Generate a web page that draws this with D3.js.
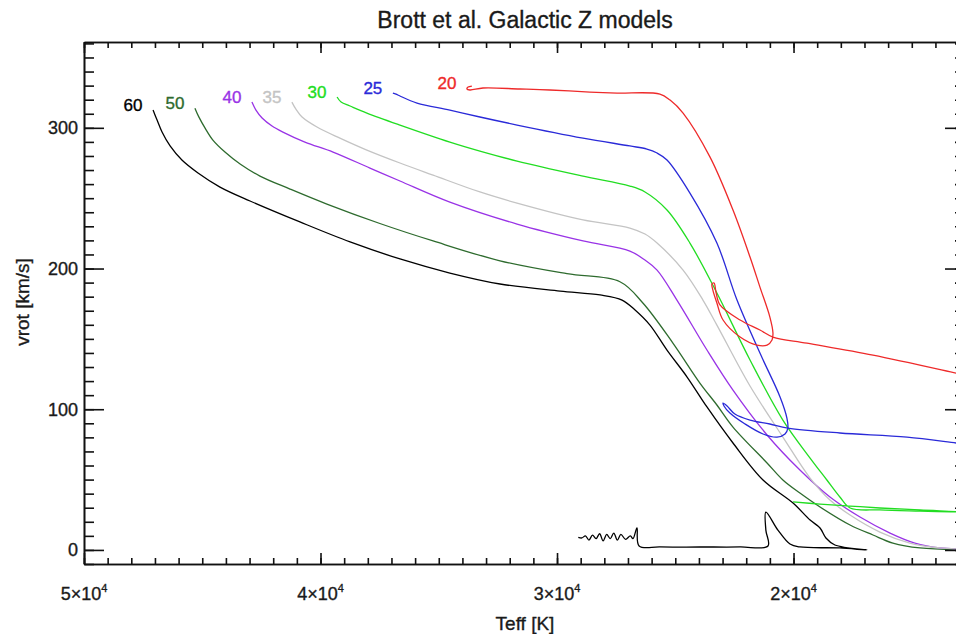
<!DOCTYPE html>
<html>
<head>
<meta charset="utf-8">
<script src="https://cdn.jsdelivr.net/npm/d3@7"></script>
<style>
  body { margin: 0; background: #fff; }
  text { font-family: "Liberation Sans", Arial, Helvetica, sans-serif; fill: #1a1a1a; stroke-width: 0.35px; }
</style>
</head>
<body>
<svg id="svg1" width="956" height="634"></svg>
<script>
// model tracks: Teff [K] and vrot [km/s]
var masses = [60, 50, 40, 35, 30, 25, 20];
var colors = ["#000000", "#2e6b2e", "#9933e6", "#c4c4c4", "#22dd22", "#2a2ad8", "#ee2a2a"];

var teff60 = [47080, 46910, 46700, 46360, 45860, 45180, 44250, 42980, 40870, 38750, 36640, 34530, 32410, 29870, 28180, 27250,
  26700, 26070, 25350, 24500, 23660, 22560, 21290, 20020, 19300, 18880, 18630, 18250, 16900, 18040, 19730, 20150, 20660,
  21170, 21170, 21080, 22260, 23960, 25650, 26530, 26620, 26790, 26900, 27100, 27300, 27450, 27600, 27750, 27900, 28050,
  28200, 28350, 28500, 28650, 28800, 28950, 29100];
var vrot60 = [312.6, 305.5, 297, 287.1, 277.1, 267.9, 257.9, 248, 233.1, 218.9, 206.8, 196.8, 189, 184, 181.2, 177.6,
  170.5, 159.8, 142, 122.9, 101.6, 76, 49.7, 33.3, 21.2, 15.6, 8.5, 3.5, 0, 1.4, 2.1, 4.2, 14.1,
  26.9, 14.1, 2.8, 2.1, 2.1, 2.1, 2.8, 15.6, 8, 10, 7.5, 11, 7, 12, 8, 11, 6.5,
  11.5, 8, 10.5, 7, 10, 8.5, 9];

var teff50 = [45310, 45140, 44880, 44550, 44040, 43400, 42560, 41290, 39730, 37490, 35240, 32410, 29580, 27340,
  26370, 25100, 23960, 23240, 22560, 21120, 20450, 19730, 18880, 17610, 16640, 15800, 14650, 12750];
var vrot50 = [314, 307.6, 299.8, 291.3, 282.8, 274.3, 265.7, 256.5, 245.8, 232, 219.6, 205.5, 196.3, 190.6,
  175.5, 147, 118.6, 103, 87.3, 61.8, 49.7, 40.4, 30.5, 17.7, 10.6, 4.9, 1.4, 0];

var teff40 = [42900, 42730, 42470, 42050, 41590, 40660, 39470, 37910, 36640, 34530, 31690, 28900, 26920, 26280, 25770,
  24930, 23660, 22560, 21120, 19730, 18460, 17190, 15920, 14870, 13810, 12750];
var vrot40 = [318.3, 312.6, 307, 301.3, 297, 289.9, 282.8, 271.4, 262.2, 247.2, 231.6, 219.6, 212.4, 206, 198.9,
  177.6, 142.1, 113.6, 81.7, 56.8, 37.6, 23.4, 12, 4.9, 1.4, 0.6];

var teff35 = [41210, 41040, 40780, 40150, 39180, 38040, 36640, 35240, 33260, 31690, 28900, 26920, 26280, 25770, 24670,
  23830, 23240, 21840, 20450, 19300, 18460, 17610, 16350, 15080, 13810, 12750];
var vrot35 = [318.3, 313.3, 307.7, 300.6, 292.7, 284.2, 275, 266.4, 254.4, 246.5, 234.5, 228.8, 224.5, 218.1, 198.9,
  177.6, 159.8, 116.5, 80.2, 51.1, 35.5, 24.8, 12.7, 4.9, 1.4, 0.6];

var teff30 = [39300, 39130, 38750, 38040, 36640, 34530, 33260, 31690, 28900, 26920, 26280, 25350, 24380, 23240, 21840,
  20450, 19300, 18590, 18040, 17610, 16350, 14650, 12750, 14650, 16350, 17610, 18880, 20020];
var vrot30 = [321.9, 318.3, 315.5, 310.5, 302, 289.9, 283.5, 276.4, 265.7, 258.6, 254.4, 241.6, 218.1, 182.6, 135,
  92.3, 65.3, 49.7, 37.6, 29.8, 28.4, 27.6, 26.9, 28.4, 29.8, 31.2, 32.6, 34.1];

var teff25 = [36940, 36810, 36640, 35920, 34530, 33260, 31690, 28900, 26920, 26200, 25770, 25350, 24380, 23240, 22390,
  21420, 20570, 20280, 20240, 20360, 20700, 21290, 22050, 22690, 22940, 22980, 22810, 22480, 21840, 21000, 20240,
  18040, 15200, 13130, 12750];
var vrot25 = [324.7, 324, 322.6, 317.6, 312.6, 307.7, 302, 292.7, 287.1, 284.9, 282.1, 277.1, 253.6, 218.1, 177.6,
  139.9, 108.7, 93.7, 86.6, 82.4, 80.2, 82.4, 89.5, 97.3, 102.3, 104.4, 102.3, 96.6, 92.3, 89.5, 86.6,
  83.1, 80.2, 76, 75.3];

var teff20 = [33600, 33760, 33810, 33680, 33130, 31570, 30300, 28610, 27460, 25650, 25220, 24670, 23530, 22560, 21840,
  21420, 21000, 20870, 20910, 21120, 21550, 22260, 22980, 23240, 23410, 23450, 23360, 23280, 23110, 22260, 21420,
  20870, 19430, 16640, 13130, 12750];
var vrot20 = [329.7, 329, 327.6, 326.9, 328.3, 327.6, 326.9, 325.4, 324.7, 324, 319.7, 310.5, 279.2, 241.6, 208.2,
  186.8, 165.5, 154.2, 149.2, 145.6, 145.6, 151.3, 163.4, 175.5, 184.7, 189, 189.7, 183.3, 174.1, 163.4, 156.3,
  151.3, 147, 138.5, 125.7, 124.3];

var teffs = [teff60, teff50, teff40, teff35, teff30, teff25, teff20];
var vrots = [vrot60, vrot50, vrot40, vrot35, vrot30, vrot25, vrot20];

var xMajor = [50000, 40000, 30000, 20000];
var yMajor = [0, 100, 200, 300];

var svg = d3.select("#svg1"),
  box = {left: 84, right: 965, top: 42, bottom: 564};

var x = d3.scaleLinear().domain([50000, 12750]).range([box.left, box.right]);
var y = d3.scaleLinear().domain([-10, 361]).range([box.bottom, box.top]);

var line = d3.line()
  .x(function(d) { return x(d[0]); })
  .y(function(d) { return y(d[1]); })
  .curve(d3.curveCatmullRom.alpha(0.5));

var plot = svg.append("g");
plot.append("clipPath").attr("id", "clip")
  .append("rect").attr("x", box.left).attr("y", box.top)
  .attr("width", box.right - box.left).attr("height", box.bottom - box.top);

var tracks = plot.append("g").attr("clip-path", "url(#clip)");
masses.forEach(function(m, i) {
  var pts = d3.zip(teffs[i], vrots[i]);
  tracks.append("path")
    .datum(pts)
    .attr("fill", "none")
    .attr("stroke", colors[i])
    .attr("stroke-width", 1.3)
    .attr("stroke-linejoin", "round")
    .attr("d", line);
  // label sits just left of the hottest point of the track
  var hot = pts[d3.maxIndex(pts, function(d) { return d[0]; })];
  svg.append("text")
    .attr("x", x(hot[0]) - 20)
    .attr("y", y(hot[1]) - 5)
    .attr("text-anchor", "middle")
    .attr("dominant-baseline", "central")
    .attr("font-size", 17)
    .style("fill", colors[i])
    .style("stroke", colors[i])
    .text(m);
});

// axes, ticks pointing inward on all four sides
var xMinor = d3.range(13000, 50001, 1000);
var yMinor = d3.range(-10, 361, 10);

function styleAxis(sel) {
  sel.selectAll("path").attr("stroke", "#111").attr("stroke-width", 1.6);
  sel.selectAll("line").attr("stroke", "#111").attr("stroke-width", 1.6);
  sel.selectAll("text").remove();
}

svg.append("g").attr("transform", "translate(0," + box.bottom + ")")
  .call(d3.axisBottom(x).tickValues(xMinor).tickSize(-6).tickSizeOuter(0)).call(styleAxis);
svg.append("g").attr("transform", "translate(0," + box.bottom + ")")
  .call(d3.axisBottom(x).tickValues(xMajor).tickSize(-11).tickSizeOuter(0)).call(styleAxis);
svg.append("g").attr("transform", "translate(0," + box.top + ")")
  .call(d3.axisTop(x).tickValues(xMinor).tickSize(-6).tickSizeOuter(0)).call(styleAxis);
svg.append("g").attr("transform", "translate(0," + box.top + ")")
  .call(d3.axisTop(x).tickValues(xMajor).tickSize(-11).tickSizeOuter(0)).call(styleAxis);
svg.append("g").attr("transform", "translate(" + box.left + ",0)")
  .call(d3.axisLeft(y).tickValues(yMinor).tickSize(-10).tickSizeOuter(0)).call(styleAxis);
svg.append("g").attr("transform", "translate(" + box.left + ",0)")
  .call(d3.axisLeft(y).tickValues(yMajor).tickSize(-20).tickSizeOuter(0)).call(styleAxis);
svg.append("g").attr("transform", "translate(" + box.right + ",0)")
  .call(d3.axisRight(y).tickValues(yMinor).tickSize(-10).tickSizeOuter(0)).call(styleAxis);
svg.append("g").attr("transform", "translate(" + box.right + ",0)")
  .call(d3.axisRight(y).tickValues(yMajor).tickSize(-20).tickSizeOuter(0)).call(styleAxis);

// tick labels
svg.append("g").selectAll("text")
  .data(yMajor)
  .enter().append("text")
    .attr("x", box.left - 6)
    .attr("y", function(d) { return y(d); })
    .attr("dy", "0.36em")
    .attr("text-anchor", "end")
    .attr("font-size", 18)
    .style("stroke", "#1a1a1a")
    .text(function(d) { return d; });

var xl = svg.append("g").selectAll("text")
  .data(xMajor)
  .enter().append("text")
    .attr("x", function(d) { return x(d); })
    .attr("y", 600)
    .attr("text-anchor", "middle")
    .attr("font-size", 18)
    .style("stroke", "#1a1a1a");
xl.append("tspan").text(function(d) { return (d / 10000) + "\u00d710"; });
xl.append("tspan").attr("dy", -8).attr("font-size", 11).text("4");

// titles
svg.append("text")
  .attr("x", 525).attr("y", 28)
  .attr("text-anchor", "middle")
  .attr("font-size", 23)
  .style("stroke", "#1a1a1a")
  .text("Brott et al. Galactic Z models");

svg.append("text")
  .attr("x", 525).attr("y", 630)
  .attr("text-anchor", "middle")
  .attr("font-size", 19)
  .style("stroke", "#1a1a1a")
  .text("Teff [K]");

svg.append("text")
  .attr("transform", "translate(29,302) rotate(-90)")
  .attr("text-anchor", "middle")
  .attr("font-size", 19)
  .style("stroke", "#1a1a1a")
  .text("vrot [km/s]");
</script>
</body>
</html>
